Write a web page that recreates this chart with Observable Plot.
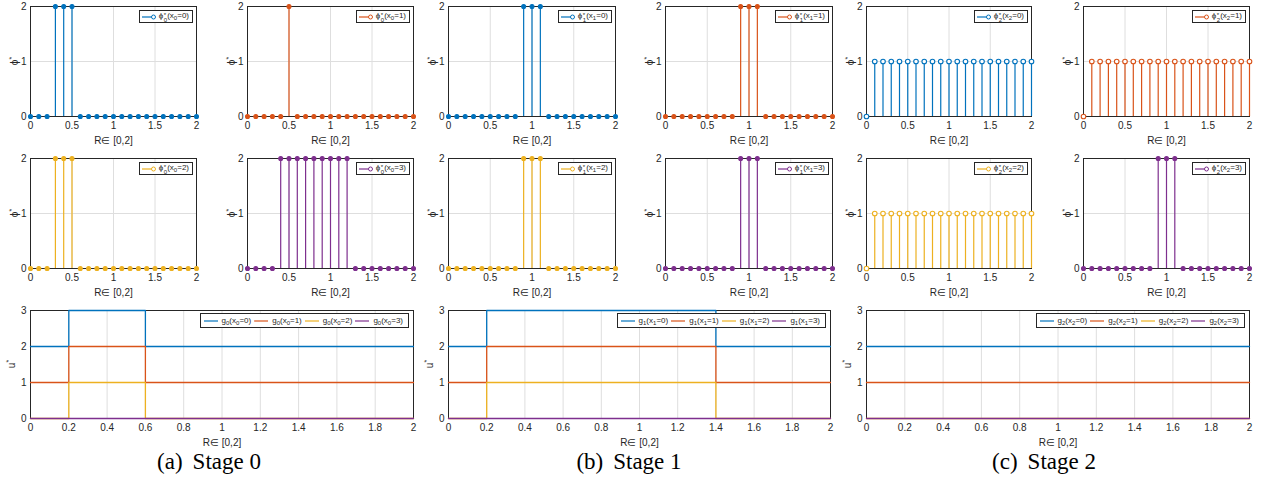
<!DOCTYPE html>
<html><head><meta charset="utf-8">
<script src="https://cdn.jsdelivr.net/npm/d3@7"></script>
<script src="https://cdn.jsdelivr.net/npm/@observablehq/plot@0.6"></script>
<style>
body{margin:0;background:#fff;}
#root{position:relative;width:1261px;height:483px;overflow:hidden;font-family:"Liberation Sans",Arial,sans-serif;color:#262626;}
.panel{position:absolute;}
.leg{position:absolute;background:#fff;border:1px solid #262626;font-size:8px;color:#262626;display:flex;align-items:center;white-space:nowrap;height:13px;box-sizing:border-box;padding:0 3px 0 2px;}
.ent{display:flex;align-items:center;margin-right:3px;}
.ss{display:inline-block;vertical-align:-4px;font-size:6px;line-height:5px;margin-left:0.5px;}
.ss span{display:block;}
.sb{font-size:6px;vertical-align:-2px;}
.ylab{position:absolute;transform:translate(-50%,-50%) rotate(-90deg);font-size:10px;white-space:nowrap;}
.ylab sup{font-size:7px;}
.cap{position:absolute;font-family:"Liberation Serif","Times New Roman",serif;font-size:23px;color:#000;transform:translateX(-50%);white-space:nowrap;}
.cap .lead{display:inline-block;margin-right:10px;}
</style></head><body><div id="root"></div><script>
// ---------- data ----------
const R = [0,0.1,0.2,0.3,0.4,0.5,0.6,0.7,0.8,0.9,1,1.1,1.2,1.3,1.4,1.5,1.6,1.7,1.8,1.9,2];
const xTicksTop = [0,0.5,1,1.5,2];
const yTicksTop = [0,1,2];
const xTicksBottom = [0,0.2,0.4,0.6,0.8,1,1.2,1.4,1.6,1.8,2];
const yTicksBottom = [0,1,2,3];
const colors = ["#0072BD","#D95319","#EDB120","#7E2F8E"];

const phi0_x0 = [0,0,0,2,2,2,0,0,0,0,0,0,0,0,0,0,0,0,0,0,0];
const phi0_x1 = [0,0,0,0,0,2,0,0,0,0,0,0,0,0,0,0,0,0,0,0,0];
const phi0_x2 = [0,0,0,2,2,2,0,0,0,0,0,0,0,0,0,0,0,0,0,0,0];
const phi0_x3 = [0,0,0,0,2,2,2,2,2,2,2,2,2,0,0,0,0,0,0,0,0];
const phi1_x0 = [0,0,0,0,0,0,0,0,0,2,2,2,0,0,0,0,0,0,0,0,0];
const phi1_x1 = [0,0,0,0,0,0,0,0,0,2,2,2,0,0,0,0,0,0,0,0,0];
const phi1_x2 = [0,0,0,0,0,0,0,0,0,2,2,2,0,0,0,0,0,0,0,0,0];
const phi1_x3 = [0,0,0,0,0,0,0,0,0,2,2,2,0,0,0,0,0,0,0,0,0];
const phi2_x0 = [0,1,1,1,1,1,1,1,1,1,1,1,1,1,1,1,1,1,1,1,1];
const phi2_x1 = [0,1,1,1,1,1,1,1,1,1,1,1,1,1,1,1,1,1,1,1,1];
const phi2_x2 = [0,1,1,1,1,1,1,1,1,1,1,1,1,1,1,1,1,1,1,1,1];
const phi2_x3 = [0,0,0,0,0,0,0,0,0,2,2,2,0,0,0,0,0,0,0,0,0];

// step breakpoints (value holds from breakpoint until the next)
const stage0R = [0,0.2,0.6,2];
const g0_x0 = [2,3,2,2];
const g0_x1 = [1,2,1,1];
const g0_x2 = [0,1,0,0];
const g0_x3 = [0,0,0,0];
const stage1R = [0,0.2,1.4,2];
const g1_x0 = [2,3,2,2];
const g1_x1 = [1,2,1,1];
const g1_x2 = [0,1,0,0];
const g1_x3 = [0,0,0,0];
const stage2R = [0,2];
const g2_x0 = [2,2];
const g2_x1 = [1,1];
const g2_x2 = [0,0];
const g2_x3 = [0,0];

const captionLeads = ["(a)","(b)","(c)"];
const captionTexts = ["Stage 0","Stage 1","Stage 2"];

// ---------- layout ----------
const root = document.getElementById("root");
const FONT = "Liberation Sans, Arial, sans-serif";
const GRID = "#dedede";
const AX = "#262626";

function stacked(top, bottom){ return `<span class="ss"><span>${top}</span><span>${bottom}</span></span>`; }
function sb(s){ return `<span class="sb">${s}</span>`; }

function addYLabel(html, cx, cy){
  const d = document.createElement("div");
  d.className = "ylab"; d.innerHTML = html;
  d.style.left = cx + "px"; d.style.top = cy + "px";
  root.appendChild(d);
}

function stemPanel(vals, color, stage, xi, left, top, w, h, open){
  const data = R.map((r,i)=>({r, v: vals[i]}));
  const ML=30, MR=8, MT=8, MB=34;
  const p = Plot.plot({
    width: w+ML+MR, height: h+MT+MB,
    marginLeft: ML, marginRight: MR, marginTop: MT, marginBottom: MB,
    style: {fontFamily: FONT, fontSize: "10px", color: AX, background: "transparent", overflow: "visible"},
    x: {domain:[0,2], ticks: xTicksTop, tickFormat: d=>String(d), tickSize: 0, tickPadding: 5,
        label: "R∈ [0,2]", labelAnchor: "center", labelArrow: "none", labelOffset: 27},
    y: {domain:[0,2], ticks: yTicksTop, tickFormat: d=>String(d), tickSize: 0, tickPadding: 4, label: null},
    marks: [
      Plot.gridX(xTicksTop, {stroke: GRID, strokeOpacity: 1}),
      Plot.gridY(yTicksTop, {stroke: GRID, strokeOpacity: 1}),
      Plot.frame({stroke: AX, strokeWidth: 1}),
      Plot.ruleX(data.filter(d=>d.v>0), {x:"r", y1:0, y2:"v", stroke: color, strokeWidth: 1.2}),
      Plot.dot(data, {x:"r", y:"v", r: open ? 2.3 : 2, stroke: color, strokeWidth: 1.1, fill: open ? "white" : color})
    ]
  });
  const div = document.createElement("div");
  div.className = "panel";
  div.style.left = (left-ML)+"px"; div.style.top = (top-MT)+"px";
  div.appendChild(p);
  root.appendChild(div);
  addYLabel(`ϕ<sup>*</sup>`, left-16, top+h/2);
  // legend
  const lg = document.createElement("div");
  lg.className = "leg";
  lg.innerHTML = `<svg width="15" height="8" style="margin-right:2px"><line x1="0" y1="4" x2="12" y2="4" stroke="${color}" stroke-width="1.2"/><circle cx="11.5" cy="4" r="2" stroke="${color}" stroke-width="1" fill="white"/></svg>` +
    `<span>ϕ${stacked("*", stage)}(x${sb(stage)}=${xi})</span>`;
  lg.style.right = (1261-(left+w)+3)+"px";
  lg.style.top = (top+4)+"px";
  root.appendChild(lg);
}

function linePanel(xs, series, stage, left, top, w, h){
  const ML=30, MR=8, MT=8, MB=34;
  const data = [];
  series.forEach((vals, k) => xs.forEach((r,i) => data.push({k, r, v: vals[i]})));
  const p = Plot.plot({
    width: w+ML+MR, height: h+MT+MB,
    marginLeft: ML, marginRight: MR, marginTop: MT, marginBottom: MB,
    style: {fontFamily: FONT, fontSize: "10px", color: AX, background: "transparent", overflow: "visible"},
    x: {domain:[0,2], ticks: xTicksBottom, tickFormat: d=>String(d), tickSize: 0, tickPadding: 5,
        label: "R∈ [0,2]", labelAnchor: "center", labelArrow: "none", labelOffset: 27},
    y: {domain:[0,3], ticks: yTicksBottom, tickFormat: d=>String(d), tickSize: 0, tickPadding: 4, label: null},
    color: {domain: [0,1,2,3], range: colors},
    marks: [
      Plot.gridX(xTicksBottom, {stroke: GRID, strokeOpacity: 1}),
      Plot.gridY(yTicksBottom, {stroke: GRID, strokeOpacity: 1}),
      Plot.frame({stroke: AX, strokeWidth: 1}),
      Plot.line(data, {x:"r", y:"v", z:"k", stroke:"k", curve:"step-after", strokeWidth: 1.3})
    ]
  });
  const div = document.createElement("div");
  div.className = "panel";
  div.style.left = (left-ML)+"px"; div.style.top = (top-MT)+"px";
  div.appendChild(p);
  root.appendChild(div);
  addYLabel(`u<sup>*</sup>`, left-19, top+h/2);
  const lg = document.createElement("div");
  lg.className = "leg";
  lg.style.padding = "0 2px 0 3px";
  lg.innerHTML = colors.map((c,k)=>`<span class="ent"><svg width="16" height="6" style="margin-right:2px"><line x1="0" y1="3" x2="14" y2="3" stroke="${c}" stroke-width="1.2"/></svg><span>g${sb(stage)}(x${sb(stage)}=${k})</span></span>`).join("");
  lg.style.right = (1261-(left+w)+4)+"px";
  lg.style.top = (top+3)+"px";
  lg.style.height = "15px";
  root.appendChild(lg);
}

const cols = [[30,166],[247,166],[448,167],[665,167],[866,165],[1083,166]];
const rows = [[6,110],[158,110]];
const topPanels = [
  [phi0_x0,0,0,0],[phi0_x1,1,0,1],[phi1_x0,0,1,0],[phi1_x1,1,1,1],[phi2_x0,0,2,0,true],[phi2_x1,1,2,1,true]
];
const midPanels = [
  [phi0_x2,2,0,2],[phi0_x3,3,0,3],[phi1_x2,2,1,2],[phi1_x3,3,1,3],[phi2_x2,2,2,2,true],[phi2_x3,3,2,3]
];
[topPanels, midPanels].forEach((list, ri) => list.forEach((pp, ci) => {
  stemPanel(pp[0], colors[pp[1]], pp[2], pp[3], cols[ci][0], rows[ri][0], cols[ci][1], rows[ri][1], !!pp[4]);
}));

const bcols = [[30,383],[448,382],[866,383]];
linePanel(stage0R, [g0_x0,g0_x1,g0_x2,g0_x3], 0, bcols[0][0], 310, bcols[0][1], 108);
linePanel(stage1R, [g1_x0,g1_x1,g1_x2,g1_x3], 1, bcols[1][0], 310, bcols[1][1], 108);
linePanel(stage2R, [g2_x0,g2_x1,g2_x2,g2_x3], 2, bcols[2][0], 310, bcols[2][1], 108);

captionTexts.forEach((c,i)=>{
  const d = document.createElement("div");
  d.className = "cap";
  const a = document.createElement("span"); a.className = "lead"; a.textContent = captionLeads[i];
  const b = document.createElement("span"); b.textContent = c;
  d.appendChild(a); d.appendChild(b);
  d.style.left = [209,629,1044][i]+"px";
  d.style.top = "449px";
  root.appendChild(d);
});
</script></body></html>
